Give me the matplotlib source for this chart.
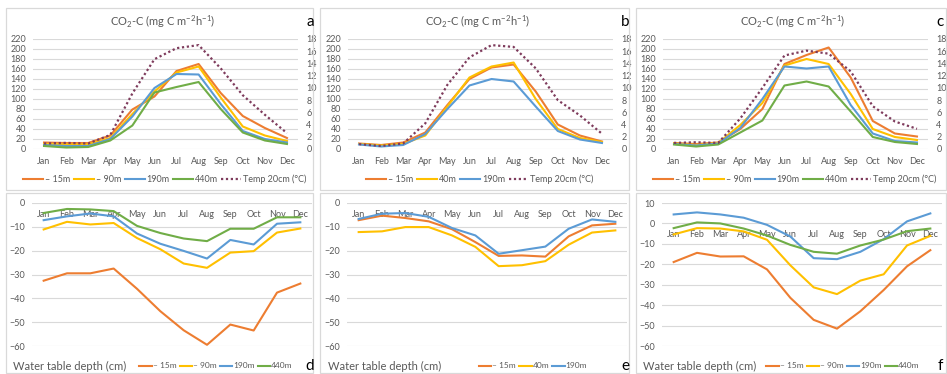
import matplotlib.pyplot as plt
from matplotlib.patches import Rectangle

months = ["Jan", "Feb", "Mar", "Apr", "May", "Jun",
          "Jul", "Aug", "Sep", "Oct", "Nov", "Dec"]

# CO2-C (mg C m-2 h-1), panel a
a_15 = [13, 12, 12, 27, 79, 105, 156, 170, 112, 66, 42, 22]
a_90 = [10, 9, 9, 22, 70, 115, 153, 165, 103, 45, 27, 16]
a_190 = [8, 6, 6, 20, 65, 122, 150, 149, 90, 36, 20, 13]
a_440 = [6, 3, 4, 17, 47, 113, 124, 134, 80, 33, 17, 10]
a_temp = [0.9, 1.0, 0.9, 2.3, 9.1, 14.7, 16.5, 17.0, 13.2, 8.8, 5.6, 2.6]

# panel b
b_15 = [11, 8, 13, 33, 88, 140, 163, 169, 115, 49, 27, 15]
b_40 = [10, 7, 10, 27, 85, 143, 165, 173, 100, 40, 22, 14]
b_190 = [9, 5, 8, 30, 80, 127, 140, 135, 85, 36, 19, 12]
b_temp = [0.8, 0.5, 0.9, 4.2, 10.5, 15.0, 17.0, 16.7, 13.2, 8.0, 5.5, 2.5]

# panel c
c_15 = [12, 10, 13, 40, 80, 170, 188, 203, 143, 56, 31, 25]
c_90 = [11, 8, 12, 48, 92, 167, 180, 170, 110, 40, 24, 18]
c_190 = [10, 7, 11, 42, 100, 165, 161, 165, 88, 31, 16, 13]
c_440 = [9, 5, 9, 33, 57, 127, 135, 125, 75, 24, 14, 10]
c_temp = [1.0, 1.1, 1.0, 5.0, 10.0, 15.3, 16.1, 15.6, 12.7, 7.0, 4.5, 3.3]

# water table depth (cm), panel d
d_15 = [-32.6, -29.5, -29.5, -27.5, -36.0, -45.4, -53.4, -59.5, -51.0, -53.5, -37.6, -33.8]
d_90 = [-11.1, -7.9, -9.0, -8.4, -14.7, -19.4, -25.4, -27.2, -20.8, -20.2, -12.4, -10.7]
d_190 = [-7.2, -5.6, -4.4, -5.6, -12.8, -17.1, -20.1, -23.3, -15.5, -17.4, -8.7, -8.1]
d_440 = [-4.2, -2.5, -2.7, -3.4, -9.6, -12.6, -14.9, -16.0, -10.8, -10.8, -6.0, -6.0]

# panel e
e_15 = [-7.2, -5.3, -6.3, -7.7, -11.0, -16.4, -22.2, -22.0, -22.5, -14.0, -9.4, -8.7]
e_40 = [-12.2, -11.9, -10.1, -10.1, -13.6, -18.4, -26.5, -26.1, -24.4, -17.5, -12.4, -11.5]
e_190 = [-6.7, -4.5, -4.2, -5.8, -10.5, -13.6, -21.3, -19.8, -18.3, -10.8, -6.9, -7.9]

# panel f
f_15 = [-18.9, -14.4, -16.2, -16.1, -22.5, -36.4, -47.2, -51.5, -43.0, -32.6, -21.0, -13.1]
f_90 = [-5.4, -2.3, -2.5, -3.9, -8.0, -20.5, -31.3, -34.6, -28.0, -24.9, -10.8, -6.1]
f_190 = [4.4, 5.4, 4.4, 2.8, -0.7, -6.4, -17.0, -17.5, -13.9, -7.7, 1.0, 4.9]
f_440 = [-2.3, 0.5, 0.0, -2.5, -5.9, -10.5, -13.9, -14.8, -10.8, -7.9, -3.8, -2.5]

ORANGE = "#ED7D31"
YELLOW = "#FFC000"
BLUE = "#5B9BD5"
GREEN = "#70AD47"
TEMP = "#7E3B5C"
GRID = "#D9D9D9"
TEXT = "#595959"

W, H = 947, 374

plt.rcParams["font.family"] = ["Lato", "DejaVu Sans"]
plt.rcParams["mathtext.default"] = "regular"

fig = plt.figure(figsize=(W / 100, H / 100), dpi=100)


def fx(px):
    return px / W


def fy(py):
    return 1 - py / H


def panel_box(x0, y0, x1, y1):
    fig.add_artist(Rectangle((fx(x0), fy(y1)), fx(x1 - x0), (y1 - y0) / H,
                             transform=fig.transFigure, fill=False,
                             ec=GRID, lw=0.9))


def style_axis(ax):
    for s in ax.spines.values():
        s.set_visible(False)
    ax.tick_params(length=0, labelsize=6.5, colors=TEXT)


def co2_panel(ox, letter, series, temp):
    ax = fig.add_axes([fx(ox + 33), fy(149), fx(265), 110 / H])
    x = list(range(12))
    handles = []
    for vals, label, color in series:
        h, = ax.plot(x, vals, color=color, lw=1.5, label=label)
        handles.append(h)
    ax.set_xlim(-0.5, 11.5)
    ax.set_ylim(0, 220)
    ax.set_yticks(range(0, 221, 20))
    ax.set_xticks(x)
    ax.set_xticklabels(months)
    ax.grid(axis="y", color=GRID, lw=0.8)
    ax.set_axisbelow(True)
    style_axis(ax)
    ax.tick_params(axis="x", pad=6)
    ax.tick_params(axis="y", pad=5)

    ax2 = ax.twinx()
    h, = ax2.plot(x, temp, color=TEMP, ls=(0, (1, 1.2)), lw=1.6,
                  label="Temp 20cm (°C)")
    handles.append(h)
    ax2.set_ylim(0, 18)
    ax2.set_yticks(range(0, 19, 2))
    style_axis(ax2)
    ax2.tick_params(axis="y", pad=6)

    fig.text(fx(ox + 163), fy(22), "CO$_2$-C (mg C m$^{-2}$h$^{-1}$)",
             ha="center", va="center", fontsize=8, color=TEXT)
    fig.text(fx(ox + 310), fy(22), letter, ha="center", va="center",
             fontsize=11, color="black")
    fig.legend(handles, [h.get_label() for h in handles], loc="center",
               bbox_to_anchor=(fx(ox + 165), fy(179)), ncol=len(handles),
               frameon=False, fontsize=6.5, labelcolor=TEXT,
               handlelength=2.2, handletextpad=0.2, columnspacing=0.4,
               borderpad=0)


def wtd_panel(ox, letter, series, ymax, legend_cx):
    ax = fig.add_axes([fx(ox + 32), fy(346), fx(280), 143 / H])
    x = list(range(12))
    handles = []
    for vals, label, color in series:
        h, = ax.plot(x, vals, color=color, lw=1.5, label=label)
        handles.append(h)
    ax.set_xlim(-0.5, 11.5)
    ax.set_ylim(-60, ymax)
    ax.set_yticks(range(-60, ymax + 1, 10))
    ax.set_xticks(x)
    ax.set_xticklabels(months)
    ax.grid(axis="y", color=GRID, lw=0.8)
    ax.set_axisbelow(True)
    style_axis(ax)
    ax.spines["bottom"].set_position(("data", 0))
    ax.tick_params(axis="x", pad=5)
    ax.tick_params(axis="y", pad=5)

    fig.text(fx(ox + 13), fy(366), "Water table depth (cm)", ha="left",
             va="center", fontsize=8, color=TEXT)
    fig.text(fx(ox + 310), fy(366), letter, ha="center", va="center",
             fontsize=11, color="black")
    fig.legend(handles, [h.get_label() for h in handles], loc="center",
               bbox_to_anchor=(fx(ox + legend_cx), fy(366)), ncol=len(handles),
               frameon=False, fontsize=6, labelcolor=TEXT,
               handlelength=1.5, handletextpad=0.1, columnspacing=0.4,
               borderpad=0)


cols = [(6, 313), (320, 629), (636, 946)]
for x0, x1 in cols:
    panel_box(x0, 8, x1, 190)
    panel_box(x0, 193, x1, 373)

co2_panel(0, "a", [(a_15, "– 15m", ORANGE), (a_90, "– 90m", YELLOW),
                   (a_190, "190m", BLUE), (a_440, "440m", GREEN)], a_temp)
co2_panel(315, "b", [(b_15, "– 15m", ORANGE), (b_40, "40m", YELLOW),
                     (b_190, "190m", BLUE)], b_temp)
co2_panel(630, "c", [(c_15, "– 15m", ORANGE), (c_90, "– 90m", YELLOW),
                     (c_190, "190m", BLUE), (c_440, "440m", GREEN)], c_temp)

wtd_panel(0, "d", [(d_15, "– 15m", ORANGE), (d_90, "– 90m", YELLOW),
                   (d_190, "190m", BLUE), (d_440, "440m", GREEN)], 0, 216)
wtd_panel(315, "e", [(e_15, "– 15m", ORANGE), (e_40, "40m", YELLOW),
                     (e_190, "190m", BLUE)], 0, 218)
wtd_panel(630, "f", [(f_15, "– 15m", ORANGE), (f_90, "– 90m", YELLOW),
                     (f_190, "190m", BLUE), (f_440, "440m", GREEN)], 10, 213)

fig.savefig("out.png", dpi=100)
